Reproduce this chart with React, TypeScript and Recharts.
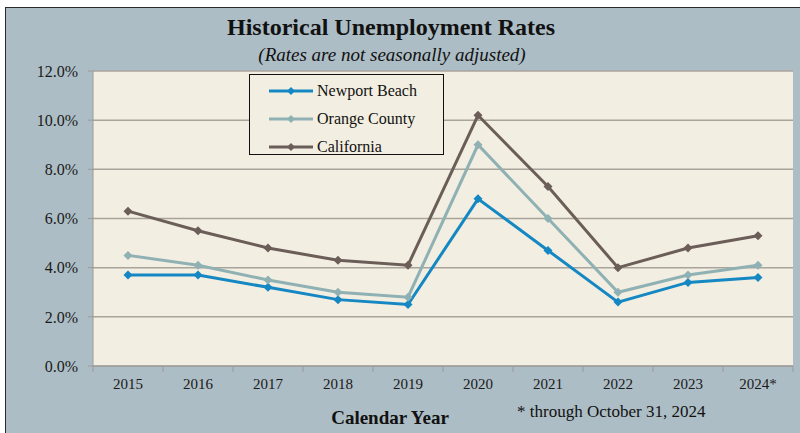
import React from "react";
import {
  LineChart,
  Line,
  XAxis,
  YAxis,
  CartesianGrid,
} from "recharts";

const YEARS = ["2015", "2016", "2017", "2018", "2019", "2020", "2021", "2022", "2023", "2024*"];
const NEWPORT = [3.7, 3.7, 3.2, 2.7, 2.5, 6.8, 4.7, 2.6, 3.4, 3.6];
const ORANGE = [4.5, 4.1, 3.5, 3.0, 2.8, 9.0, 6.0, 3.0, 3.7, 4.1];
const CALIFORNIA = [6.3, 5.5, 4.8, 4.3, 4.1, 10.2, 7.3, 4.0, 4.8, 5.3];
const Y_TICKS = [0, 2, 4, 6, 8, 10, 12];
const X_BOUNDS = [0, 1, 2, 3, 4, 5, 6, 7, 8, 9, 10];

const SERIES = [
  { key: "newport", name: "Newport Beach", color: "#1587c3" },
  { key: "orange", name: "Orange County", color: "#8fb1b4" },
  { key: "california", name: "California", color: "#6b5e58" },
];

const data = YEARS.map((year, i) => ({
  x: i + 0.5,
  year,
  newport: NEWPORT[i],
  orange: ORANGE[i],
  california: CALIFORNIA[i],
}));

const FONT = "'Liberation Serif', 'DejaVu Serif', serif";
const W = 800;
const H = 433;
const PLOT_LEFT = 93;
const PLOT_RIGHT = 7;
const HALF_CAT = (W - PLOT_LEFT - PLOT_RIGHT) / YEARS.length / 2;

const Diamond = ({ cx, cy, fill, size = 4.5 }: any) => {
  if (cx == null || cy == null) return null;
  return (
    <path
      d={`M${cx},${cy - size}L${cx + size},${cy}L${cx},${cy + size}L${cx - size},${cy}Z`}
      fill={fill}
    />
  );
};

const YearTick = ({ x, y, payload }: any) => {
  const i = payload.value;
  if (i >= YEARS.length) return null;
  return (
    <text
      x={x + HALF_CAT}
      y={y}
      dy="0.71em"
      textAnchor="middle"
      fill="#1a1a1a"
      fontSize={15}
      fontFamily={FONT}
    >
      {YEARS[i]}
    </text>
  );
};

const LegendBox = () => (
  <div
    style={{
      position: "absolute",
      left: 249,
      top: 74,
      width: 195,
      height: 81,
      border: "1.5px solid #111",
      background: "#f2eee1",
      boxSizing: "border-box",
      paddingTop: 2,
    }}
  >
    {SERIES.map((s) => (
      <div key={s.key} style={{ display: "flex", alignItems: "center", height: 28 }}>
        <svg width={66} height={12}>
          <line x1={19} y1={6} x2={63} y2={6} stroke={s.color} strokeWidth={3} />
          <Diamond cx={41} cy={6} fill={s.color} size={4} />
        </svg>
        <span style={{ fontFamily: FONT, fontSize: 16, color: "#111", marginLeft: 1 }}>
          {s.name}
        </span>
      </div>
    ))}
  </div>
);

export default function App() {
  return (
    <div style={{ position: "absolute", left: 0, top: 0, width: W, height: H, overflow: "hidden", background: "#fff" }}>
      <div
        style={{
          position: "absolute",
          left: 5,
          top: 7,
          width: W,
          height: H,
          background: "#adbdc5",
          border: "1.5px solid #2a2a2a",
        }}
      />
      <div
        style={{
          position: "absolute",
          left: 0,
          width: 782,
          top: 14,
          textAlign: "center",
          fontFamily: FONT,
          fontWeight: "bold",
          fontSize: 24,
          color: "#111",
        }}
      >
        Historical Unemployment Rates
      </div>
      <div
        style={{
          position: "absolute",
          left: 0,
          width: 784,
          top: 44,
          textAlign: "center",
          fontFamily: FONT,
          fontStyle: "italic",
          fontSize: 19,
          color: "#111",
        }}
      >
        (Rates are not seasonally adjusted)
      </div>
      <div style={{ position: "absolute", left: 0, top: 0 }}>
        <LineChart
          width={W}
          height={H}
          data={data}
          margin={{ top: 71, right: PLOT_RIGHT, bottom: 37, left: 0 }}
        >
          <CartesianGrid
            vertical={false}
            fill="#f2eee1"
            stroke="#a8a49c"
            strokeWidth={1.5}
          />
          <XAxis
            dataKey="x"
            type="number"
            domain={[0, 10]}
            ticks={X_BOUNDS}
            interval={0}
            height={30}
            tickSize={6}
            tickMargin={6}
            stroke="#9a9a9a"
            tick={<YearTick />}
          />
          <YAxis
            width={PLOT_LEFT}
            domain={[0, 12]}
            ticks={Y_TICKS}
            interval={0}
            tickSize={5}
            tickMargin={10}
            stroke="#9a9a9a"
            tick={{ fill: "#1a1a1a", fontSize: 16, fontFamily: FONT }}
            tickFormatter={(v: number) => `${v.toFixed(1)}%`}
          />
          {SERIES.map((s) => (
            <Line
              key={s.key}
              dataKey={s.key}
              name={s.name}
              stroke={s.color}
              strokeWidth={3}
              dot={<Diamond fill={s.color} />}
              activeDot={false}
              isAnimationActive={false}
            />
          ))}
        </LineChart>
      </div>
      <LegendBox />
      <div
        style={{
          position: "absolute",
          left: 0,
          width: 780,
          top: 407,
          textAlign: "center",
          fontFamily: FONT,
          fontWeight: "bold",
          fontSize: 19,
          color: "#111",
        }}
      >
        Calendar Year
      </div>
      <div
        style={{
          position: "absolute",
          left: 517,
          top: 402,
          fontFamily: FONT,
          fontSize: 17,
          color: "#111",
        }}
      >
        * through October 31, 2024
      </div>
    </div>
  );
}
